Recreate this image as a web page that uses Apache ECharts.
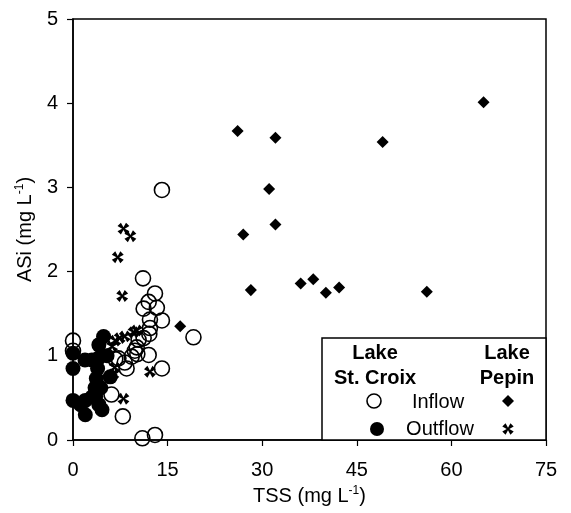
<!DOCTYPE html>
<html>
<head>
<meta charset="utf-8">
<script src="https://cdn.jsdelivr.net/npm/echarts@6/dist/echarts.min.js"></script>
<style>html,body{margin:0;padding:0;background:#fff;}#c{width:571px;height:513px;}</style>
</head>
<body>
<div id="c"></div>
<script>
// TSS (mg L-1), ASi (mg L-1)
var xTicks = [0, 15, 30, 45, 60, 75];
var yTicks = [0, 1, 2, 3, 4, 5];

var stCroixInflow = [
  [0,1.18],[0,1.06],[14.1,2.97],[11.1,1.92],[13.0,1.74],[12.0,1.64],[11.2,1.56],[13.3,1.57],
  [14.1,1.42],[12.2,1.43],[12.2,1.33],[12.1,1.26],[11.2,1.21],[19.1,1.22],[10.4,1.19],[10.1,1.10],
  [9.8,1.06],[10.2,1.02],[12.0,1.01],[9.3,0.99],[6.7,0.96],[7.2,0.97],[8.5,0.85],[14.1,0.85],
  [6.1,0.54],[7.9,0.28],[11.0,0.02],[13.0,0.06],[8.2,0.92]
];
var stCroixOutflow = [
  [0,1.03],[0,0.85],[0,0.47],[1.2,0.42],[1.95,0.47],[1.95,0.30],[3.0,0.51],[4.1,0.42],[4.6,0.36],
  [3.6,0.52],[3.5,0.62],[3.7,0.73],[3.9,0.85],[1.9,0.95],[3.0,0.95],[4.0,0.97],[4.1,1.13],
  [4.85,1.23],[5.4,1.0],[5.9,0.75],[4.4,0.62]
];
var pepinInflow = [
  [65.1,4.01],[26.1,3.67],[32.1,3.59],[49.1,3.54],[31.1,2.98],[32.1,2.56],[27.0,2.44],
  [28.2,1.78],[36.1,1.86],[38.1,1.91],[40.1,1.75],[42.2,1.81],[56.1,1.76],[17.0,1.35]
];
var pepinOutflow = [
  [8.0,2.51],[9.1,2.42],[7.1,2.17],[7.8,1.71],[10.1,1.30],[9.6,1.28],[8.2,1.23],[7.4,1.21],
  [6.7,1.18],[6.2,1.11],[6.6,0.86],[6.4,0.78],[12.2,0.81],[8.0,0.49]
];

var crossPath = 'path://M3,0 L7,0 L5.8,4.2 L10,3 L10,7 L5.8,5.8 L7,10 L3,10 L4.2,5.8 L0,7 L0,3 L4.2,4.2 Z';
var FONT = '"Liberation Sans", Arial, Helvetica, sans-serif';

// legend cross glyph as polygon (rotated 45 deg)
var crossBase = [[-2,-5],[2,-5],[0.8,-0.8],[5,-2],[5,2],[0.8,0.8],[2,5],[-2,5],[-0.8,0.8],[-5,2],[-5,-2],[-0.8,-0.8]];
function crossPts(cx, cy, s) {
  var c = Math.cos(Math.PI/4), sn = Math.sin(Math.PI/4);
  return crossBase.map(function (p) {
    var x = p[0]*s, y = p[1]*s;
    return [cx + x*c - y*sn, cy + x*sn + y*c];
  });
}

var chart = echarts.init(document.getElementById('c'), null, {renderer: 'canvas'});
var supStyle = {fontSize: 12, verticalAlign: 'top', padding: [0,0,12,0], fontFamily: FONT, color: '#000'};
chart.setOption({
  animation: false,
  backgroundColor: '#fff',
  grid: {left: 73, right: 25, top: 19, bottom: 73, outerBoundsMode: 'none', containLabel: false,
         show: true, borderColor: '#000', borderWidth: 1.5, backgroundColor: 'transparent'},
  xAxis: {
    type: 'value', min: 0, max: 75, interval: 15,
    name: 'TSS (mg L{sup|-1})', nameLocation: 'middle', nameGap: 42,
    nameTextStyle: {fontFamily: FONT, fontSize: 20, color: '#000', rich: {sup: supStyle}},
    axisLine: {lineStyle: {color: '#000', width: 1.5}},
    axisTick: {show: true, inside: false, length: 6, lineStyle: {color: '#000', width: 1.2}},
    axisLabel: {fontFamily: FONT, fontSize: 20, color: '#000', margin: 20},
    splitLine: {show: false}
  },
  yAxis: {
    type: 'value', min: 0, max: 5, interval: 1,
    name: 'ASi (mg L{sup|-1})', nameLocation: 'middle', nameGap: 32,
    nameTextStyle: {fontFamily: FONT, fontSize: 20, color: '#000', rich: {sup: supStyle}},
    axisLine: {lineStyle: {color: '#000', width: 1.5}},
    axisTick: {show: true, inside: false, length: 6, lineStyle: {color: '#000', width: 1.2}},
    axisLabel: {fontFamily: FONT, fontSize: 20, color: '#000', margin: 15},
    splitLine: {show: false}
  },
  series: [
    {name: 'St. Croix Inflow', type: 'scatter', data: stCroixInflow, symbol: 'circle', symbolSize: 15,
     itemStyle: {color: 'rgba(255,255,255,0)', borderColor: '#000', borderWidth: 1.6, opacity: 1}, z: 2},
    {name: 'St. Croix Outflow', type: 'scatter', data: stCroixOutflow, symbol: 'circle', symbolSize: 15,
     itemStyle: {color: '#000', borderWidth: 0, opacity: 1}, z: 3},
    {name: 'Pepin Inflow', type: 'scatter', data: pepinInflow, symbol: 'rect', symbolSize: 8.5, symbolRotate: 45,
     itemStyle: {color: '#000', opacity: 1}, z: 4},
    {name: 'Pepin Outflow', type: 'scatter', data: pepinOutflow, symbol: crossPath, symbolSize: 12, symbolRotate: 45,
     itemStyle: {color: '#000', opacity: 1}, z: 5}
  ],
  graphic: [
    {type: 'rect', shape: {x: 322, y: 338, width: 224, height: 102}, style: {fill: '#fff', stroke: '#000', lineWidth: 1.5}, z: 100},
    {type: 'text', x: 375, y: 353, style: {text: 'Lake', font: 'bold 20px ' + FONT, fill: '#000', align: 'center', verticalAlign: 'middle'}, z: 101},
    {type: 'text', x: 375, y: 378, style: {text: 'St. Croix', font: 'bold 20px ' + FONT, fill: '#000', align: 'center', verticalAlign: 'middle'}, z: 101},
    {type: 'text', x: 507, y: 353, style: {text: 'Lake', font: 'bold 20px ' + FONT, fill: '#000', align: 'center', verticalAlign: 'middle'}, z: 101},
    {type: 'text', x: 507, y: 378, style: {text: 'Pepin', font: 'bold 20px ' + FONT, fill: '#000', align: 'center', verticalAlign: 'middle'}, z: 101},
    {type: 'text', x: 438, y: 402, style: {text: 'Inflow', font: '20px ' + FONT, fill: '#000', align: 'center', verticalAlign: 'middle'}, z: 101},
    {type: 'text', x: 440, y: 429, style: {text: 'Outflow', font: '20px ' + FONT, fill: '#000', align: 'center', verticalAlign: 'middle'}, z: 101},
    {type: 'circle', shape: {cx: 374, cy: 401, r: 7}, style: {fill: '#fff', stroke: '#000', lineWidth: 1.6}, z: 101},
    {type: 'circle', shape: {cx: 377, cy: 429, r: 7}, style: {fill: '#000'}, z: 101},
    {type: 'polygon', shape: {points: [[508,395],[514,401],[508,407],[502,401]]}, style: {fill: '#000'}, z: 101},
    {type: 'polygon', shape: {points: crossPts(508, 429, 1.15)}, style: {fill: '#000'}, z: 101}
  ]
});
</script>
</body>
</html>
